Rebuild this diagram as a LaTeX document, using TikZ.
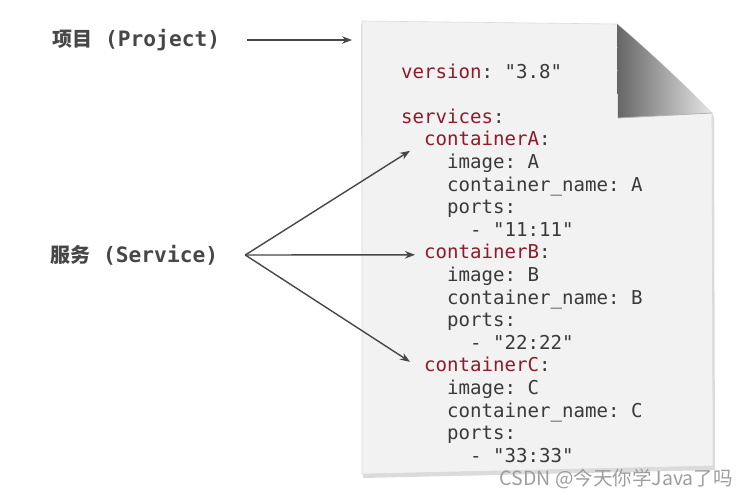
\documentclass[tikz,border=0pt]{standalone}
\usepackage{fontspec}
\setmonofont{DejaVu Sans Mono}
\newfontfamily\cjk{Noto Sans CJK SC}
\usetikzlibrary{arrows.meta,calc}
\definecolor{keyred}{HTML}{8B1C2C}
\definecolor{valgray}{HTML}{3A3A3A}
\definecolor{lblgray}{HTML}{474747}
\definecolor{paper}{HTML}{F2F2F2}
\begin{document}
\begin{tikzpicture}[x=1pt,y=-1pt,
  lbl/.style={anchor=west,inner sep=0pt,text=lblgray,font=\fontsize{20}{22}\selectfont},
  lblmono/.style={font=\ttfamily\bfseries\fontsize{21.2}{22}\selectfont},
  code/.style={anchor=base west,inner sep=0pt,text=valgray,font=\ttfamily\fontsize{19.1}{22}\selectfont},
  arr/.style={-{Stealth[length=10pt,width=7.5pt]},line width=1.4pt,draw=lblgray}]
\useasboundingbox (0,0) rectangle (748,496);
\fill[white] (0,0) rectangle (748,496);
% paper shadow
\fill[black!14] (361,24) -- (619,27) -- (714,116) -- (715,470) -- (363,478) -- cycle;
% paper
\fill[paper,draw=black!14,line width=0.6pt] (362,21) -- (617,24) .. controls (650,52) and (690,90) .. (712,113) -- (713,466) -- (362,474) -- cycle;
% folded corner
\shade[left color=black!60,right color=black!10] (617,24) .. controls (650,52) and (690,90) .. (712,113) -- (618,118) -- cycle;
\draw[black!30,line width=0.8pt] (618,118) -- (712,113);
% labels
\node[lbl] (proj) at (52,40) {{\cjk\bfseries 项目}\hspace{13pt}{\ttfamily\bfseries\fontsize{21.2}{22}\selectfont (Project)}};
\node[lbl] (serv) at (50,255) {{\cjk\bfseries 服务}\hspace{13pt}{\ttfamily\bfseries\fontsize{21.2}{22}\selectfont (Service)}};
% code
\def\K#1{\textcolor{keyred}{#1}}
\node[code] (l0) at (401,78) {\K{version}: "3.8"};
\node[code] (l2) at (401,123.2) {\K{services}:};
\node[code] (cA) at (424,145.8) {\K{containerA}:};
\node[code] (l4) at (447,168.4) {image: A};
\node[code] (l5) at (447,191.0) {container\_name: A};
\node[code] (l6) at (447,213.6) {ports:};
\node[code] (l7) at (470,236.2) {- "11:11"};
\node[code] (cB) at (424,258.8) {\K{containerB}:};
\node[code] (l9) at (447,281.4) {image: B};
\node[code] (l10) at (447,304.0) {container\_name: B};
\node[code] (l11) at (447,326.6) {ports:};
\node[code] (l12) at (470,349.2) {- "22:22"};
\node[code] (cC) at (424,371.8) {\K{containerC}:};
\node[code] (l14) at (447,394.4) {image: C};
\node[code] (l15) at (447,417.0) {container\_name: C};
\node[code] (l16) at (447,439.6) {ports:};
\node[code] (l17) at (470,462.2) {- "33:33"};
% arrows
\coordinate (projtip) at (352,40);
\draw[arr] ([xshift=27pt]proj.east) -- (projtip);
\coordinate (fan) at ([xshift=27pt]serv.east);
\draw[arr] (fan) -- ($(cA.base west)+(-14,5)$);
\draw[arr] (fan) -- ($(cB.base west)+(-9,-4)$);
\draw[arr] (fan) -- ($(cC.base west)+(-14,-10)$);
% watermark
\node[anchor=base east,inner sep=0pt,text=black!38,font=\cjk\fontsize{19.5}{21}\selectfont] (wm) at (733,485) {CSDN @今天你学Java了吗};
\end{tikzpicture}
\end{document}
